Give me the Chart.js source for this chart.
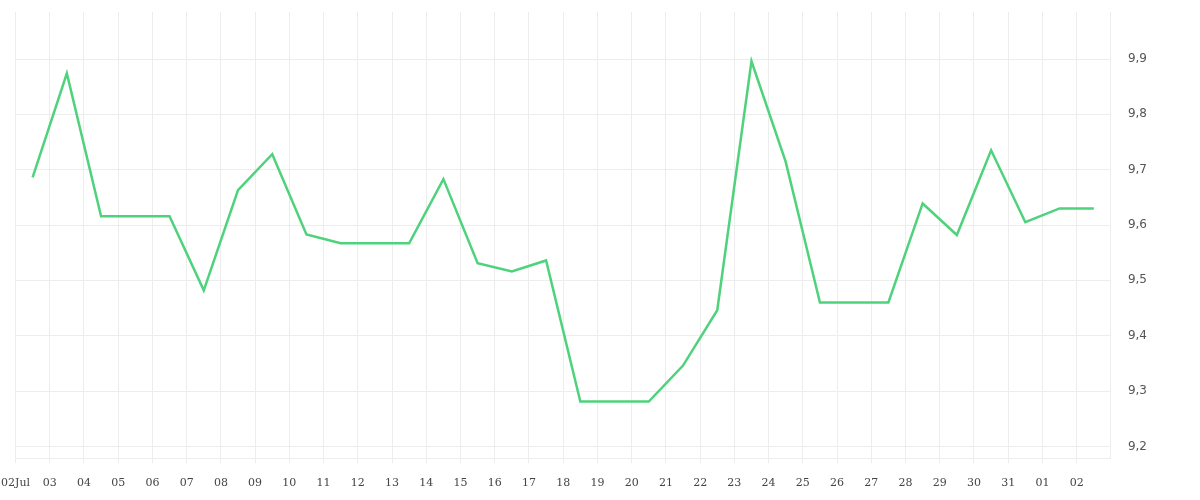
<!DOCTYPE html>
<html>
<head>
<meta charset="utf-8">
<script src="https://cdn.jsdelivr.net/npm/chart.js@4/dist/chart.umd.min.js"></script>
<style>
  html, body { margin: 0; padding: 0; background: #fff; }
  #wrap { width: 1200px; height: 500px; }
</style>
</head>
<body>
<div id="wrap"><canvas id="rate"></canvas></div>
<script>
'use strict';

// day labels, 02 Jul .. 02 Aug
const dayLabels = ['02Jul', '03', '04', '05', '06', '07', '08', '09', '10', '11', '12',
  '13', '14', '15', '16', '17', '18', '19', '20', '21', '22', '23', '24', '25', '26',
  '27', '28', '29', '30', '31', '01', '02'];

// one value per day (plotted at midday)
const rateValues = [9.686, 9.874, 9.616, 9.616, 9.616, 9.482, 9.663, 9.728, 9.583, 9.567,
  9.567, 9.567, 9.683, 9.531, 9.516, 9.536, 9.281, 9.281, 9.281, 9.346, 9.446, 9.896,
  9.714, 9.460, 9.460, 9.460, 9.639, 9.582, 9.735, 9.605, 9.630, 9.630];

const yTicks = [9.2, 9.3, 9.4, 9.5, 9.6, 9.7, 9.8, 9.9];

const GRID = '#ededed';

new Chart(document.getElementById('rate').getContext('2d'), {
  type: 'line',
  data: {
    datasets: [{
      data: rateValues.map((v, i) => ({ x: i + 0.5, y: v })),
      borderColor: '#4fd27c',
      borderWidth: 2.5,
      pointRadius: 0,
      tension: 0,
      fill: false,
    }]
  },
  options: {
    responsive: true,
    maintainAspectRatio: false,
    animation: false,
    layout: { padding: { top: 0, right: 36, bottom: 1, left: 0 } },
    plugins: { legend: { display: false }, tooltip: { enabled: false } },
    scales: {
      x: {
        type: 'linear',
        min: 0,
        max: dayLabels.length,
        grid: { color: GRID, tickLength: 5, tickColor: GRID },
        border: { color: GRID },
        afterFit: s => { s.paddingLeft = 15.5; s.paddingRight = 0; s.height = 41; },
        ticks: {
          stepSize: 1,
          autoSkip: false,
          maxRotation: 0,
          padding: 14,
          color: '#444',
          font: { family: "'DejaVu Serif', serif", size: 11 },
          callback: v => dayLabels[v]
        }
      },
      y: {
        position: 'right',
        min: 9.179,
        max: 9.985,
        grid: { color: GRID, drawTicks: false },
        border: { color: GRID },
        afterBuildTicks: s => { s.ticks = yTicks.map(v => ({ value: v })); },
        afterFit: s => { s.paddingTop = 12; s.paddingBottom = 0; },
        ticks: {
          padding: 17,
          color: '#555',
          font: { family: "'DejaVu Sans', sans-serif", size: 12 },
          callback: v => v.toFixed(1).replace('.', ',')
        }
      }
    }
  }
});
</script>
</body>
</html>
